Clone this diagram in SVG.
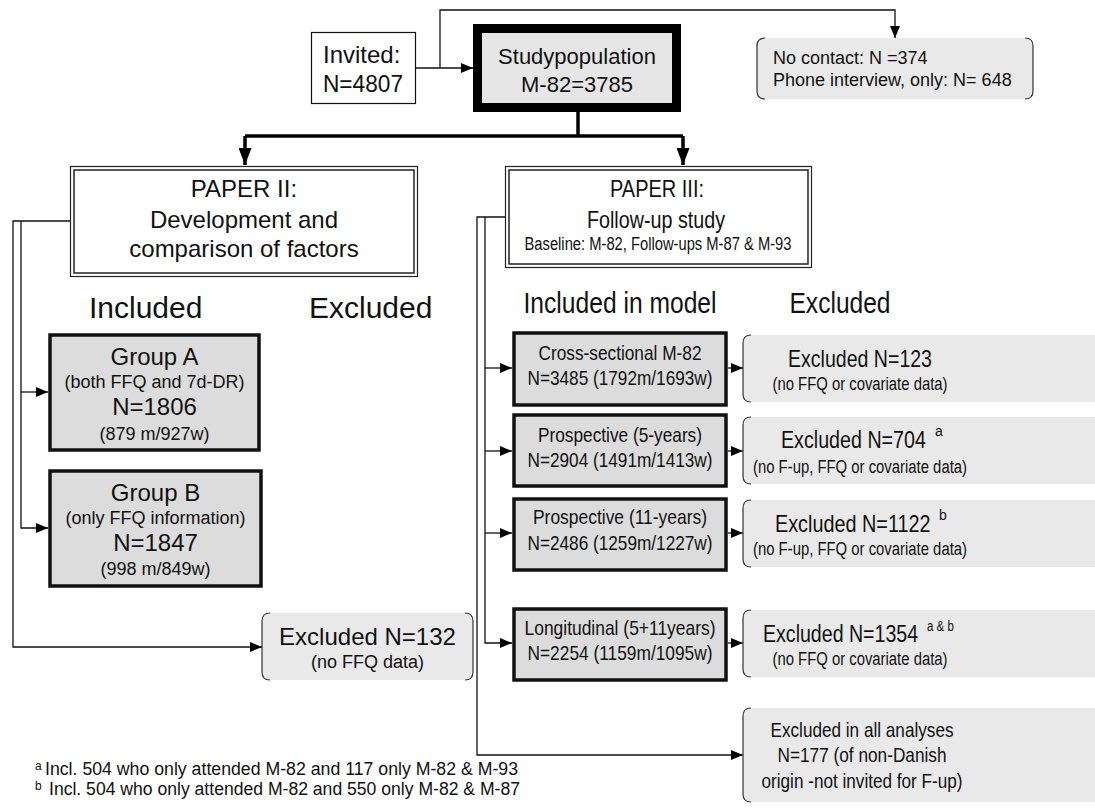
<svg xmlns="http://www.w3.org/2000/svg" width="1095" height="810" viewBox="0 0 1095 810">
<style>
text{font-family:"Liberation Sans",Arial,sans-serif;fill:#111}
.c{text-anchor:middle}
.f24{font-size:24px}.f18{font-size:18px}.f30{font-size:30px}.f22{font-size:22px}.f21{font-size:21px}.f14{font-size:14px}.f12{font-size:12px}
.ln{fill:none;stroke:#111;stroke-width:1.3}
.thick{fill:none;stroke:#000;stroke-width:3.5}
.grp{fill:#dcdcdc;stroke:#111;stroke-width:3.5}
.exf{fill:#e9e9e9;stroke:none}
.br{fill:none;stroke:#333;stroke-width:1.2}
.dbl{fill:#fff;stroke:#222;stroke-width:1.2}
.dbi{fill:none;stroke:#222;stroke-width:1.5}
</style>
<defs>
<marker id="ah" markerUnits="userSpaceOnUse" markerWidth="12" markerHeight="10" refX="12" refY="5" orient="auto"><path d="M0,0 L12,5 L0,10 z" fill="#000"/></marker>
<marker id="ahb" markerUnits="userSpaceOnUse" markerWidth="17" markerHeight="13" refX="17" refY="6.5" orient="auto"><path d="M0,0 L17,6.5 L0,13 z" fill="#000"/></marker>
</defs>
<rect width="1095" height="810" fill="#fff"/>

<g id="connectors">
<path class="ln" d="M416,68 H473" marker-end="url(#ah)"/>
<path class="ln" d="M440,68 V10 H895 V38" marker-end="url(#ah)"/>
<path class="thick" d="M578,112 V136"/>
<path class="thick" d="M245,136 H683"/>
<path class="thick" d="M245,136 V165" marker-end="url(#ahb)"/>
<path class="thick" d="M683,136 V165" marker-end="url(#ahb)"/>
<path class="ln" d="M70,221 H13 V647 H262" marker-end="url(#ah)"/>
<path class="ln" d="M21,221 V528 H48" marker-end="url(#ah)"/>
<path class="ln" d="M21,392 H48" marker-end="url(#ah)"/>
<path class="ln" d="M505,217 H477 V755 H743" marker-end="url(#ah)"/>
<path class="ln" d="M485,217 V643 H512" marker-end="url(#ah)"/>
<path class="ln" d="M485,368 H512" marker-end="url(#ah)"/>
<path class="ln" d="M485,451 H512" marker-end="url(#ah)"/>
<path class="ln" d="M485,533 H512" marker-end="url(#ah)"/>
<path class="ln" d="M728,368 H743" marker-end="url(#ah)"/>
<path class="ln" d="M728,451 H743" marker-end="url(#ah)"/>
<path class="ln" d="M728,533 H743" marker-end="url(#ah)"/>
<path class="ln" d="M728,643 H743" marker-end="url(#ah)"/>
</g>

<g id="invited">
<rect x="311.5" y="32.5" width="104" height="71" fill="#fff" stroke="#111" stroke-width="1.2"/>
<text class="f24" x="323" y="63">Invited:</text>
<text class="f24" x="323" y="92" textLength="80" lengthAdjust="spacingAndGlyphs">N=4807</text>
</g>

<g id="studypopulation">
<rect x="477.5" y="28.5" width="199" height="79" fill="#e6e6e6" stroke="#000" stroke-width="9"/>
<text class="f22 c" x="577" y="64">Studypopulation</text>
<text class="f22 c" x="577" y="92">M-82=3785</text>
</g>

<g id="nocontact">
<rect class="exf" x="757" y="38" width="276" height="61" rx="8"/>
<path class="br" d="M765,38 Q757,38 757,46 V91 Q757,99 765,99 M1025,38 Q1033,38 1033,46 V91 Q1033,99 1025,99"/>
<text class="f18" x="773" y="64">No contact: N =374</text>
<text class="f18" x="773" y="86">Phone interview, only: N= 648</text>
</g>

<g id="paper2">
<rect class="dbl" x="70.5" y="166.5" width="347" height="110"/>
<rect class="dbi" x="74" y="170" width="340" height="103"/>
<text class="f24 c" x="244" y="197">PAPER II:</text>
<text class="f24 c" x="244" y="228">Development and</text>
<text class="f24 c" x="244" y="257">comparison of factors</text>
</g>

<g id="paper3">
<rect class="dbl" x="505.5" y="166.5" width="306" height="101"/>
<rect class="dbi" x="509" y="170" width="299" height="94"/>
<text class="f24 c" x="657" y="197" textLength="94" lengthAdjust="spacingAndGlyphs">PAPER III:</text>
<text class="f24 c" x="656" y="228" textLength="138" lengthAdjust="spacingAndGlyphs">Follow-up study</text>
<text class="f18 c" x="658" y="250" textLength="267" lengthAdjust="spacingAndGlyphs">Baseline: M-82, Follow-ups M-87 &amp; M-93</text>
</g>

<g id="headers">
<text class="f30" x="89" y="318">Included</text>
<text class="f30" x="309" y="318">Excluded</text>
<text class="f30 c" x="620" y="313" textLength="193" lengthAdjust="spacingAndGlyphs">Included in model</text>
<text class="f30 c" x="840" y="313" textLength="101" lengthAdjust="spacingAndGlyphs">Excluded</text>
</g>

<g id="groupA">
<rect class="grp" x="50" y="335" width="209" height="115"/>
<text class="f24 c" x="154.5" y="365">Group A</text>
<text class="f18 c" x="154.5" y="388">(both FFQ and 7d-DR)</text>
<text class="f24 c" x="154.5" y="415">N=1806</text>
<text class="f18 c" x="154.5" y="440">(879 m/927w)</text>
</g>

<g id="groupB">
<rect class="grp" x="50" y="471" width="211" height="115"/>
<text class="f24 c" x="155.5" y="501">Group B</text>
<text class="f18 c" x="155.5" y="524">(only FFQ information)</text>
<text class="f24 c" x="155.5" y="551">N=1847</text>
<text class="f18 c" x="155.5" y="575">(998 m/849w)</text>
</g>

<g id="excl132">
<rect class="exf" x="262" y="613" width="211" height="67" rx="8"/>
<path class="br" d="M270,613 Q262,613 262,621 V672 Q262,680 270,680 M465,613 Q473,613 473,621 V672 Q473,680 465,680"/>
<text class="f24 c" x="367.5" y="645">Excluded N=132</text>
<text class="f18 c" x="367.5" y="668">(no FFQ data)</text>
</g>

<g id="cross">
<rect class="grp" x="514" y="333" width="212" height="72"/>
<text class="f21 c" x="620" y="360" textLength="163" lengthAdjust="spacingAndGlyphs">Cross-sectional M-82</text>
<text class="f21 c" x="620" y="385" textLength="185" lengthAdjust="spacingAndGlyphs">N=3485 (1792m/1693w)</text>
</g>

<g id="prosp5">
<rect class="grp" x="514" y="415" width="212" height="71"/>
<text class="f21 c" x="620" y="442" textLength="164" lengthAdjust="spacingAndGlyphs">Prospective (5-years)</text>
<text class="f21 c" x="620" y="467" textLength="185" lengthAdjust="spacingAndGlyphs">N=2904 (1491m/1413w)</text>
</g>

<g id="prosp11">
<rect class="grp" x="514" y="499" width="212" height="71"/>
<text class="f21 c" x="620" y="524" textLength="174" lengthAdjust="spacingAndGlyphs">Prospective (11-years)</text>
<text class="f21 c" x="620" y="550" textLength="185" lengthAdjust="spacingAndGlyphs">N=2486 (1259m/1227w)</text>
</g>

<g id="longit">
<rect class="grp" x="514" y="609" width="212" height="71"/>
<text class="f21 c" x="620" y="635" textLength="191" lengthAdjust="spacingAndGlyphs">Longitudinal (5+11years)</text>
<text class="f21 c" x="620" y="660" textLength="185" lengthAdjust="spacingAndGlyphs">N=2254 (1159m/1095w)</text>
</g>

<g id="excl123">
<rect class="exf" x="743" y="335" width="360" height="67" rx="8"/>
<path class="br" d="M751,335 Q743,335 743,343 V394 Q743,402 751,402"/>
<text class="f24 c" x="860" y="367" textLength="144" lengthAdjust="spacingAndGlyphs">Excluded N=123</text>
<text class="f18 c" x="860" y="390" textLength="175" lengthAdjust="spacingAndGlyphs">(no FFQ or covariate data)</text>
</g>

<g id="excl704">
<rect class="exf" x="743" y="417" width="360" height="67" rx="8"/>
<path class="br" d="M751,417 Q743,417 743,425 V476 Q743,484 751,484"/>
<text class="f24" transform="translate(781,448) scale(0.82,1)">Excluded N=704</text>
<text class="f14" x="935" y="436">a</text>
<text class="f18 c" x="860" y="473" textLength="214" lengthAdjust="spacingAndGlyphs">(no F-up, FFQ or covariate data)</text>
</g>

<g id="excl1122">
<rect class="exf" x="743" y="500" width="360" height="67" rx="8"/>
<path class="br" d="M751,500 Q743,500 743,508 V559 Q743,567 751,567"/>
<text class="f24" transform="translate(775,532) scale(0.826,1)">Excluded N=1122</text>
<text class="f14" x="939" y="520">b</text>
<text class="f18 c" x="860" y="555" textLength="214" lengthAdjust="spacingAndGlyphs">(no F-up, FFQ or covariate data)</text>
</g>

<g id="excl1354">
<rect class="exf" x="743" y="610" width="360" height="67" rx="8"/>
<path class="br" d="M751,610 Q743,610 743,618 V669 Q743,677 751,677"/>
<text class="f24" transform="translate(763,642) scale(0.816,1)">Excluded N=1354</text>
<text class="f14" transform="translate(927,631) scale(0.82,1)">a &amp; b</text>
<text class="f18 c" x="860" y="665" textLength="175" lengthAdjust="spacingAndGlyphs">(no FFQ or covariate data)</text>
</g>

<g id="exclall">
<rect class="exf" x="743" y="708" width="360" height="94" rx="8"/>
<path class="br" d="M751,708 Q743,708 743,716 V794 Q743,802 751,802"/>
<text class="f21 c" x="862" y="737" textLength="183" lengthAdjust="spacingAndGlyphs">Excluded in all analyses</text>
<text class="f21 c" x="862" y="762" textLength="169" lengthAdjust="spacingAndGlyphs">N=177 (of non-Danish</text>
<text class="f21 c" x="862" y="788" textLength="201" lengthAdjust="spacingAndGlyphs">origin -not invited for F-up)</text>
</g>

<g id="footnotes">
<text class="f18" x="35" y="775"><tspan class="f12" y="770">a</tspan><tspan x="45" y="775" textLength="473" lengthAdjust="spacingAndGlyphs">Incl. 504 who only attended M-82 and 117 only M-82 &amp; M-93</tspan></text>
<text class="f18" x="35" y="795"><tspan class="f12" y="790">b</tspan><tspan x="49" y="795" textLength="471" lengthAdjust="spacingAndGlyphs">Incl. 504 who only attended M-82 and 550 only M-82 &amp; M-87</tspan></text>
</g>
</svg>
